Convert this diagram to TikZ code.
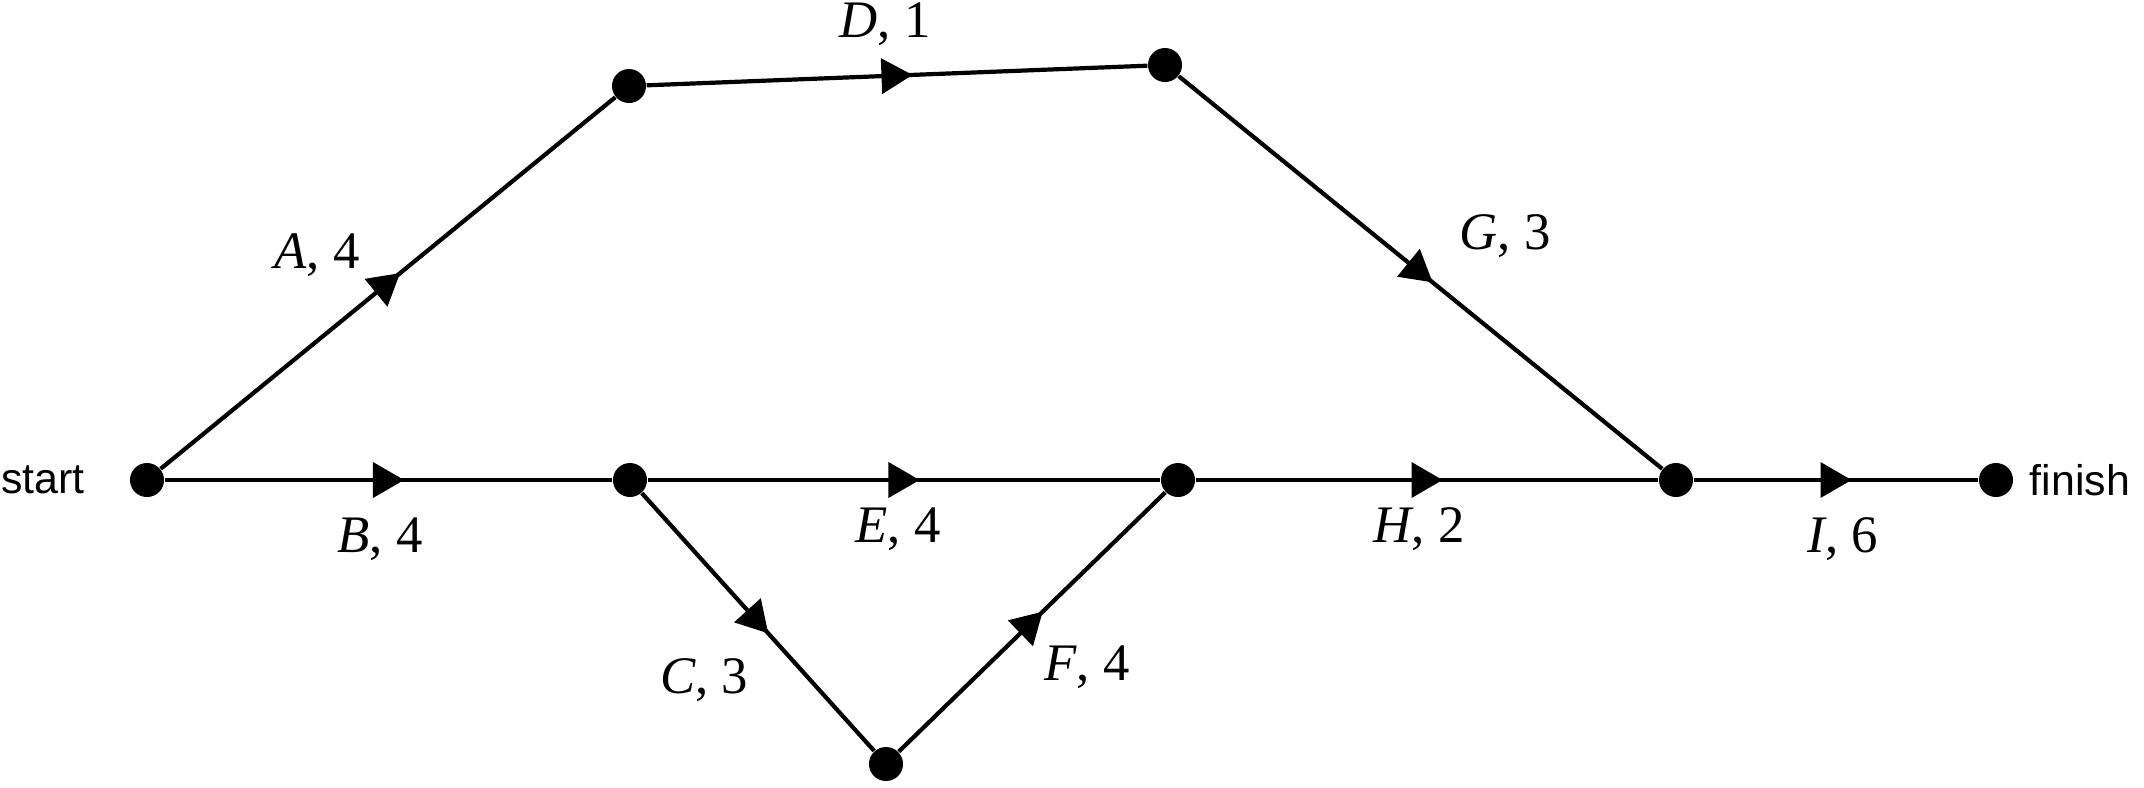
\documentclass[tikz,border=0pt]{standalone}
\usepackage{fontspec}
\setmainfont{Liberation Serif}
\newfontfamily\labsans{Liberation Sans}
\usetikzlibrary{decorations.markings}
\begin{document}
\begin{tikzpicture}[x=0.01cm,y=-0.01cm,
  vtx/.style={circle,fill=black,inner sep=0pt,minimum size=0.34cm},
  edge/.style={line width=0.042cm,draw=black,
    postaction={decorate,decoration={markings,
      mark=at position 0.5 with {\fill (0.155cm,0) -- (-0.155cm,0.18cm) -- (-0.155cm,-0.18cm) -- cycle;}}}},
  lab/.style={font=\fontsize{15}{17}\selectfont,inner sep=0pt},
  endlab/.style={font=\labsans\fontsize{12.2}{14}\selectfont,inner sep=0pt}]
\useasboundingbox (0,0) rectangle (2144,787);
\node[vtx] (S) at (147,480) {};
\node[vtx] (TL) at (629,86) {};
\node[vtx] (TR) at (1165,65) {};
\node[vtx] (M1) at (630,480) {};
\node[vtx] (M2) at (1178,480) {};
\node[vtx] (M3) at (1676,480) {};
\node[vtx] (F) at (1996,480) {};
\node[vtx] (Bt) at (886,764) {};
\draw[edge] (S) -- (TL);
\draw[edge] (TL) -- (TR);
\draw[edge] (TR) -- (M3);
\draw[edge] (S) -- (M1);
\draw[edge] (M1) -- (M2);
\draw[edge] (M2) -- (M3);
\draw[edge] (M3) -- (F);
\draw[edge] (M1) -- (Bt);
\draw[edge] (Bt) -- (M2);
\node[lab] (lA) at (317,255) {\textit{A}, 4};
\node[lab] (lD) at (885,24) {\textit{D}, 1};
\node[lab] (lG) at (1505,236) {\textit{G}, 3};
\node[lab] (lB) at (380,539) {\textit{B}, 4};
\node[lab] (lE) at (898,529) {\textit{E}, 4};
\node[lab] (lH) at (1419,529) {\textit{H}, 2};
\node[lab] (lI) at (1843,539) {\textit{I}, 6};
\node[lab] (lC) at (704,680) {\textit{C}, 3};
\node[lab] (lF) at (1087,667) {\textit{F}, 4};
\node[endlab] (ls) at (43,480) {start};
\node[endlab] (lf) at (2080,480) {finish};
\end{tikzpicture}
\end{document}
